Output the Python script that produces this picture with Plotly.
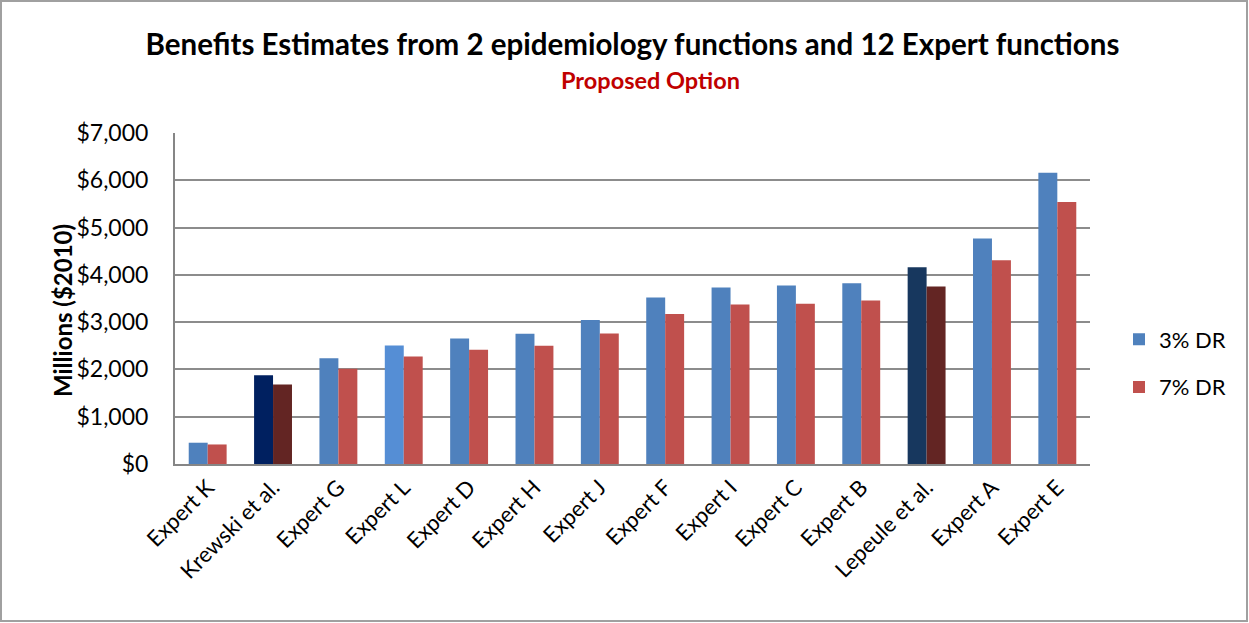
import plotly.graph_objects as go

categories = ["Expert K", "Krewski et al.", "Expert G", "Expert L", "Expert D", "Expert H",
              "Expert J", "Expert F", "Expert I", "Expert C", "Expert B", "Lepeule et al.",
              "Expert A", "Expert E"]
dr3 = [450, 1876, 2237, 2506, 2655, 2754, 3045, 3523, 3735, 3777, 3820, 4159, 4767, 6157]
dr7 = [413, 1683, 2013, 2273, 2415, 2500, 2761, 3170, 3375, 3390, 3460, 3756, 4307, 5542]
tick_vals = [0, 1000, 2000, 3000, 4000, 5000, 6000, 7000]
tick_text = ["$0", "$1,000", "$2,000", "$3,000", "$4,000", "$5,000", "$6,000", "$7,000"]

blue = "#4F81BD"
red = "#C0504D"
c3 = [blue] * len(categories)
c7 = [red] * len(categories)
c3[1] = "#002060"; c7[1] = "#632523"
c3[11] = "#17375E"; c7[11] = "#632523"
c3[3] = "#558ED5"

FONT = "Lato, Open Sans, sans-serif"

fig = go.Figure()
fig.add_trace(go.Bar(x=categories, y=dr3, name="3% DR", marker=dict(color=c3, line=dict(width=0)),
                     legendgroup="a"))
fig.add_trace(go.Bar(x=categories, y=dr7, name="7% DR", marker=dict(color=c7, line=dict(width=0)),
                     legendgroup="b"))

L, R, T, B = 175, 159, 133, 159
PW, PH = 1249 - L - R, 623 - T - B

fig.update_layout(
    width=1249, height=623,
    paper_bgcolor="white", plot_bgcolor="white",
    margin=dict(l=L, r=R, t=T, b=B),
    barmode="group", bargap=0.42, bargroupgap=0.0,
    font=dict(family=FONT, color="#000000", size=20),
    title=dict(
        text="<b>Benefits Estimates from 2 epidemiology functions and 12 Expert functions</b>",
        x=0.5, xanchor="center", xref="paper", y=(623 - 45) / 623, yanchor="middle",
        font=dict(size=29.5, family=FONT, color="#000000"),
    ),
    annotations=[
        dict(text="<b>Proposed Option</b>", xref="paper", yref="paper",
             x=(650 - L) / PW, y=(T + PH - 80) / PH, xanchor="center", yanchor="middle",
             showarrow=False, font=dict(size=23.5, family=FONT, color="#C00000")),
        dict(text="<b>Millions ($2010)</b>", xref="paper", yref="paper", textangle=-90,
             x=(62 - L) / PW, y=(T + PH - 311) / PH, xanchor="center", yanchor="middle",
             showarrow=False, font=dict(size=24, family=FONT, color="#000000")),
    ],
    xaxis=dict(
        tickangle=-45, tickfont=dict(size=22, family=FONT), showgrid=False,
        showline=True, linecolor="#868686", linewidth=2, ticks="",
    ),
    yaxis=dict(
        range=[0, 7000], tickvals=tick_vals, ticktext=tick_text,
        showgrid=True, gridcolor="#8C8C8C", gridwidth=1.5,
        showline=True, linecolor="#868686", linewidth=2,
        zeroline=False, ticks="", ticklabelstandoff=20,
        tickfont=dict(size=23, family=FONT),
    ),
    legend=dict(
        x=(1119 - L) / PW, y=(T + PH - 363.5) / PH, xanchor="left", yanchor="middle",
        font=dict(size=22, family=FONT), tracegroupgap=16,
        bgcolor="rgba(0,0,0,0)",
    ),
    shapes=[dict(type="rect", xref="paper", yref="paper",
                 x0=(1 - L) / PW, x1=(1247 - L) / PW,
                 y0=(T + PH - 621) / PH, y1=(T + PH - 1) / PH,
                 line=dict(color="#A0A0A0", width=2), fillcolor="rgba(0,0,0,0)", layer="below")],
)

fig.write_html("out.html", config={"displayModeBar": False},
               post_script="document.body.style.margin='0';")
